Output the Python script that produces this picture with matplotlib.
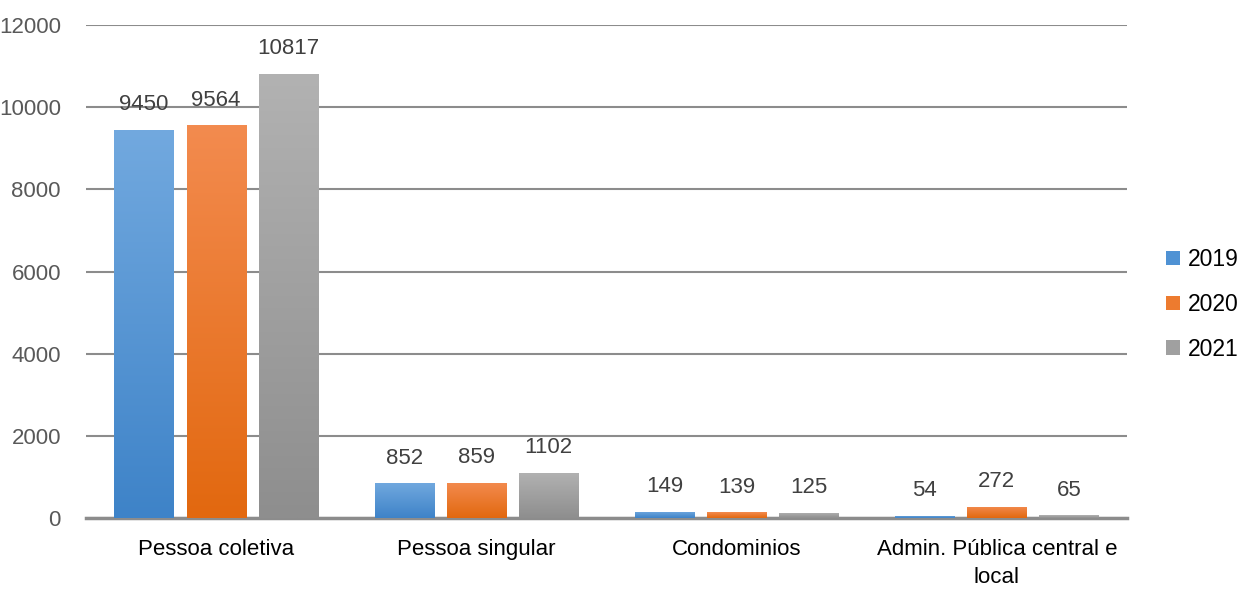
import numpy as np
import matplotlib.pyplot as plt
from matplotlib.patches import Patch
from matplotlib.colors import LinearSegmentedColormap

plt.rcParams['font.family'] = ['Liberation Sans', 'DejaVu Sans']

categories = ['Pessoa coletiva', 'Pessoa singular', 'Condominios', 'Admin. Pública central e\nlocal']
years = ['2019', '2020', '2021']
v2019 = [9450, 852, 149, 54]
v2020 = [9564, 859, 139, 272]
v2021 = [10817, 1102, 125, 65]

series = [v2019, v2020, v2021]
# top colour, bottom colour, legend colour
grads = [('#72a9df', '#3e83c8', '#4f92d4'),
         ('#f38b4f', '#e2680f', '#ed7b2f'),
         ('#b2b2b2', '#8e8e8e', '#a0a0a0')]

fig = plt.figure(figsize=(12.37, 5.91), dpi=100)
ax = fig.add_axes([0.0695, 0.1235, 0.8415, 0.8342])

x = np.arange(len(categories))
width = 0.227
step = 0.277
grad = np.linspace(0, 1, 256).reshape(-1, 1)

for i, vals in enumerate(series):
    cmap = LinearSegmentedColormap.from_list('g%d' % i, [grads[i][1], grads[i][0]])
    pos = x + (i - 1) * step
    bars = ax.bar(pos, vals, width, color='none', edgecolor='none', zorder=3)
    for b, v in zip(bars, vals):
        x0 = b.get_x()
        im = ax.imshow(grad, cmap=cmap, aspect='auto', origin='lower',
                       extent=[x0, x0 + width, 0, v], zorder=3)
        im.set_clip_path(b)
        ax.annotate(str(v), (b.get_x() + width / 2, v), xytext=(0, 18),
                    textcoords='offset points', ha='center', va='center',
                    fontsize=16, color='#404040', zorder=4)

ax.set_xlim(-0.5, 3.5)
ax.set_ylim(0, 12000)
ax.set_yticks(np.arange(0, 12001, 2000))
ax.yaxis.grid(True, color='#8c8c8c', linewidth=1.5, zorder=0)
ax.set_axisbelow(True)
for s in ['top', 'right', 'left']:
    ax.spines[s].set_visible(False)
ax.spines['bottom'].set_color('#8c8c8c')
ax.spines['bottom'].set_linewidth(2.5)
ax.tick_params(axis='both', length=0)
ax.tick_params(axis='y', labelsize=16, labelcolor='#595959', pad=18)
ax.set_xticks(x)
ax.set_xticklabels(categories, fontsize=16, color='black', linespacing=1.45)
ax.tick_params(axis='x', pad=15)

handles = [Patch(facecolor=g[2], edgecolor='none') for g in grads]
fig.legend(handles, years, loc='center left', bbox_to_anchor=(0.943, 0.485),
           frameon=False, fontsize=16.5, handlelength=0.6, handleheight=0.6,
           handletextpad=0.35, labelspacing=0.95, borderaxespad=0, borderpad=0)

plt.savefig('out.png', dpi=100)
